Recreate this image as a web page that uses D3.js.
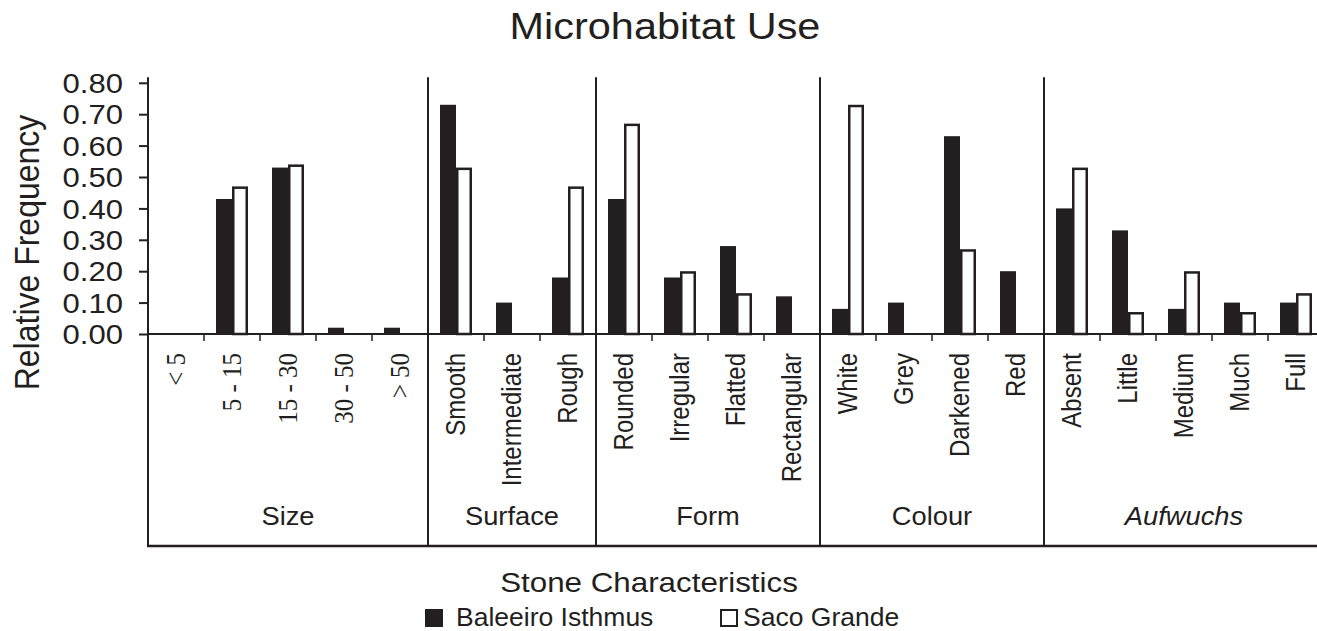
<!DOCTYPE html>
<html>
<head>
<meta charset="utf-8">
<script src="https://cdn.jsdelivr.net/npm/d3@7"></script>
<style>
  html, body { margin: 0; padding: 0; background: #fff; }
  svg { display: block; }
  text { fill: #231f20; font-family: "Liberation Sans", Arial, sans-serif; }
</style>
</head>
<body>
<div id="chart"></div>
<script>
// ---------- data ----------
const groups = ["Size", "Surface", "Form", "Colour", "Aufwuchs"];
const sizeCats = ["< 5", "5 - 15", "15 - 30", "30 - 50", "> 50"];
const surfaceCats = ["Smooth", "Intermediate", "Rough"];
const formCats = ["Rounded", "Irregular", "Flatted", "Rectangular"];
const colourCats = ["White", "Grey", "Darkened", "Red"];
const aufwuchsCats = ["Absent", "Little", "Medium", "Much", "Full"];
const seriesNames = ["Baleeiro Isthmus", "Saco Grande"];
const baleeiro = [0, 0.43, 0.53, 0.02, 0.02,
                  0.73, 0.10, 0.18,
                  0.43, 0.18, 0.28, 0.12,
                  0.08, 0.10, 0.63, 0.20,
                  0.40, 0.33, 0.08, 0.10, 0.10];
const sacoGrande = [0, 0.47, 0.54, 0, 0,
                    0.53, 0, 0.47,
                    0.67, 0.20, 0.13, 0,
                    0.73, 0, 0.27, 0,
                    0.53, 0.07, 0.20, 0.07, 0.13];
const yTicks = [0, 0.1, 0.2, 0.3, 0.4, 0.5, 0.6, 0.7, 0.8];

// ---------- build ----------
const groupCats = [sizeCats, surfaceCats, formCats, colourCats, aufwuchsCats];
const cats = [];
groupCats.forEach((list, gi) => list.forEach(c => cats.push({ id: groups[gi] + "|" + c, label: c, group: groups[gi] })));
const rows = cats.map((c, i) => ({ ...c, values: [baleeiro[i], sacoGrande[i]] }));

const W = 1317, H = 631;
const ink = "#231f20";
const svg = d3.select("#chart").append("svg").attr("width", W).attr("height", H);

const x = d3.scaleBand().domain(cats.map(c => c.id)).range([148, 1324]).paddingInner(0).paddingOuter(0);
const xs = d3.scaleBand().domain(seriesNames).range([-16, 16]);
const y = d3.scaleLinear().domain([0, 0.8]).range([334, 82.8]);
const yTop = y(0.818);
const boxBottom = 546;

// title
svg.append("text").attr("transform", "translate(665,39) scale(1.12,1)")
  .attr("text-anchor", "middle").attr("font-size", 37).text("Microhabitat Use");

// y axis
const yAxisG = svg.append("g").attr("transform", "translate(148,0)")
  .call(d3.axisLeft(y).tickValues(yTicks).tickSize(9).tickFormat(d3.format(".2f")));
yAxisG.select(".domain").remove();
yAxisG.selectAll(".tick line").attr("stroke", ink).attr("stroke-width", 2);
yAxisG.selectAll(".tick text").remove();
yAxisG.selectAll(".tick").append("text")
  .attr("transform", "translate(-25,0) scale(1.15,1)")
  .attr("text-anchor", "end").attr("dy", "0.36em")
  .attr("font-size", 27).attr("font-family", "Liberation Sans, Arial, sans-serif")
  .style("fill", ink)
  .text(d => d3.format(".2f")(d));

svg.append("text").attr("transform", `translate(39,${(115 + 390) / 2}) rotate(-90) scale(1,1.1)`)
  .attr("text-anchor", "middle").attr("font-size", 32).text("Relative Frequency");

// bars
const barG = svg.append("g");
rows.forEach(r => {
  const cx = x(r.id) + x.bandwidth() / 2;
  r.values.forEach((v, si) => {
    if (!v) return;
    const bx = cx + xs(seriesNames[si]);
    if (si === 0) {
      barG.append("rect").attr("x", bx).attr("y", y(v)).attr("width", xs.bandwidth())
        .attr("height", y(0) - y(v)).attr("fill", ink);
    } else {
      barG.append("rect").attr("x", bx + 1.25).attr("y", y(v) + 1.25).attr("width", xs.bandwidth() - 2.5)
        .attr("height", y(0) - y(v) - 1.25).attr("fill", "#fff").attr("stroke", ink).attr("stroke-width", 2.5);
    }
  });
});

// baseline + x ticks
svg.append("line").attr("x1", 148).attr("x2", 1324).attr("y1", y(0)).attr("y2", y(0))
  .attr("stroke", ink).attr("stroke-width", 2);
const groupStarts = new Set();
groups.forEach(g => groupStarts.add(cats.find(c => c.group === g).id));
cats.forEach(c => {
  if (groupStarts.has(c.id)) return;
  svg.append("line").attr("x1", x(c.id)).attr("x2", x(c.id)).attr("y1", y(0)).attr("y2", y(0) + 7)
    .attr("stroke", ink).attr("stroke-width", 1.5);
});

// group boundaries and box
groups.forEach(g => {
  const first = cats.find(c => c.group === g).id;
  svg.append("line").attr("x1", x(first)).attr("x2", x(first)).attr("y1", yTop).attr("y2", boxBottom)
    .attr("stroke", ink).attr("stroke-width", 2);
});
svg.append("line").attr("x1", 147).attr("x2", 1324).attr("y1", boxBottom).attr("y2", boxBottom)
  .attr("stroke", ink).attr("stroke-width", 2.5);

// category labels
rows.forEach(r => {
  const cx = x(r.id) + x.bandwidth() / 2;
  const serif = r.group === "Size";
  svg.append("text").attr("transform", `translate(${cx + 9},353) rotate(-90) scale(1,1.12)`)
    .attr("text-anchor", "end")
    .attr("font-size", serif ? 25 : 24)
    .style("font-family", serif ? "'Liberation Serif', 'Times New Roman', serif" : null)
    .text(r.label);
});

// group labels
groups.forEach(g => {
  const ids = cats.filter(c => c.group === g).map(c => c.id);
  const gx = (x(ids[0]) + x(ids[ids.length - 1]) + x.bandwidth()) / 2;
  svg.append("text").attr("transform", `translate(${gx},525) scale(1.05,1)`).attr("text-anchor", "middle")
    .attr("font-size", 26).style("font-style", g === "Aufwuchs" ? "italic" : null).text(g);
});

// x title
svg.append("text").attr("transform", "translate(649,592) scale(1.1,1)")
  .attr("text-anchor", "middle").attr("font-size", 28.5).text("Stone Characteristics");

// legend
const legX = [425, 720];
seriesNames.forEach((s, i) => {
  if (i === 0) {
    svg.append("rect").attr("x", legX[i]).attr("y", 609).attr("width", 18).attr("height", 18).attr("fill", ink);
  } else {
    svg.append("rect").attr("x", legX[i] + 1).attr("y", 610).attr("width", 16).attr("height", 16)
      .attr("fill", "#fff").attr("stroke", ink).attr("stroke-width", 2);
  }
  svg.append("text").attr("x", legX[i] + (i === 0 ? 31 : 23)).attr("y", 626).attr("font-size", 26.5).text(s);
});
</script>
</body>
</html>
